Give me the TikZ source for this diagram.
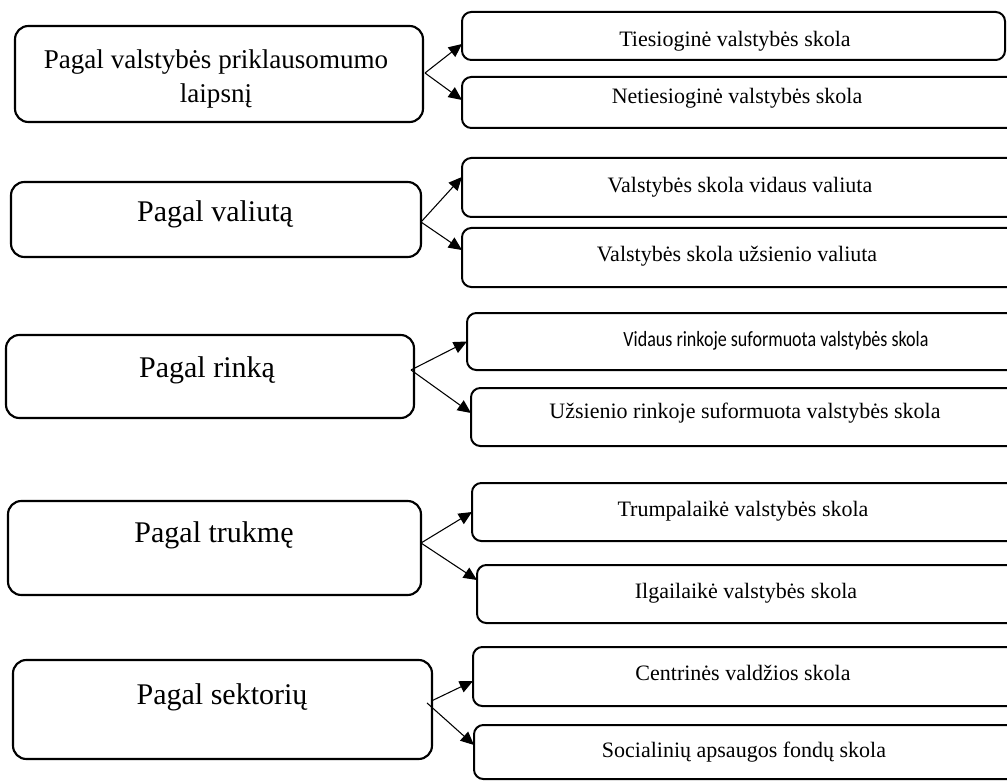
\documentclass[tikz,border=0pt]{standalone}
\usepackage{fontspec}
\usepackage{graphicx}
\setmainfont{Liberation Serif}
\newfontfamily\calibrifont{Carlito}
\usetikzlibrary{arrows.meta}
\newcommand\mkbox[6]{%
  \node[#6, minimum width={(#4-#2)*0.75pt}, minimum height={(#5-#3)*0.75pt}]
    (#1) at ({(#2+#4)/2},{(#3+#5)/2}) {};}
\tikzset{
  lbox/.style={draw=black, line width=1.6pt, rounded corners=10pt, inner sep=0pt, outer sep=0pt, rectangle},
  rbox/.style={draw=black, line width=1.5pt, rounded corners=7pt, inner sep=0pt, outer sep=0pt, rectangle},
  ltxt/.style={inner sep=0pt, font=\fontsize{22.5}{27}\selectfont, align=center},
  ltxtA/.style={inner sep=0pt, font=\fontsize{20.3}{25.5}\selectfont, align=center},
  rtxt/.style={inner sep=0pt, font=\fontsize{16.5}{20}\selectfont},
  rtxtC/.style={inner sep=0pt, font=\calibrifont\fontsize{16.3}{20}\selectfont},
  arr/.style={line width=0.8pt, -{Triangle[length=10pt,width=9pt]}}
}
\begin{document}
\begin{tikzpicture}[x=0.75pt,y=-0.75pt]
\useasboundingbox (0,0) rectangle (1007,781);
\clip (0,0) rectangle (1007,781);
% left boxes
\mkbox{L1}{15}{26}{423}{122}{lbox}
\mkbox{L2}{11}{182}{421}{257}{lbox}
\mkbox{L3}{6}{335}{414}{418}{lbox}
\mkbox{L4}{8}{501}{421}{595}{lbox}
\mkbox{L5}{13}{660}{432}{759}{lbox}
% right boxes
\mkbox{R1a}{462}{12}{1005}{60}{rbox}
\mkbox{R1b}{462}{77}{1030}{128}{rbox}
\mkbox{R2a}{462}{158}{1030}{217}{rbox}
\mkbox{R2b}{462}{228}{1030}{287}{rbox}
\mkbox{R3a}{467}{313}{1030}{370}{rbox}
\mkbox{R3b}{471}{388}{1030}{446}{rbox}
\mkbox{R4a}{472}{483}{1030}{541}{rbox}
\mkbox{R4b}{477}{565}{1030}{623}{rbox}
\mkbox{R5a}{473}{647}{1030}{706}{rbox}
\mkbox{R5b}{474}{725}{1030}{779}{rbox}
% left texts
\node[ltxtA] (T1) at (216,79) {Pagal valstybės priklausomumo\\laipsnį};
\node[ltxt] (T2) at (215,214) {Pagal valiutą};
\node[ltxt] (T3) at (207,370) {Pagal rinką};
\node[ltxt] (T4) at (214,535) {Pagal trukmę};
\node[ltxt] (T5) at (222,697) {Pagal sektorių};
% right texts
\node[rtxt] (S1a) at (735,41) {Tiesioginė valstybės skola};
\node[rtxt] (S1b) at (737,98) {Netiesioginė valstybės skola};
\node[rtxt] (S2a) at (740,187) {Valstybės skola vidaus valiuta};
\node[rtxt] (S2b) at (737,256) {Valstybės skola užsienio valiuta};
\node[rtxtC] (S3a) at (776,341) {\scalebox{0.83}[1]{Vidaus rinkoje suformuota valstybės skola}};
\node[rtxt] (S3b) at (745,413) {Užsienio rinkoje suformuota valstybės skola};
\node[rtxt] (S4a) at (743,511) {Trumpalaikė valstybės skola};
\node[rtxt] (S4b) at (746,593) {Ilgailaikė valstybės skola};
\node[rtxt] (S5a) at (743,673) {Centrinės valdžios skola};
\node[rtxt] (S5b) at (744,752) {Socialinių apsaugos fondų skola};
% connectors
\draw[arr] ([xshift=1.5pt,yshift=0.75pt]L1.east) -- ([yshift=-6pt]R1a.west);
\draw[arr] ([xshift=1.5pt,yshift=0.75pt]L1.east) -- ([yshift=1.9pt]R1b.west);
\draw[arr] ([yshift=-1.9pt]L2.east) -- ([yshift=7.9pt]R2a.west);
\draw[arr] ([yshift=-1.9pt]L2.east) -- ([yshift=5.6pt]R2b.west);
\draw[arr] ([xshift=-2.25pt,yshift=4.9pt]L3.east) -- (R3a.west);
\draw[arr] ([xshift=-2.25pt,yshift=4.9pt]L3.east) -- ([yshift=3pt]R3b.west);
\draw[arr] ([yshift=3.75pt]L4.east) -- (R4a.west);
\draw[arr] ([yshift=3.75pt]L4.east) -- ([yshift=10.5pt]R4b.west);
\draw[arr] ([yshift=6.6pt]L5.east) -- ([yshift=-3.4pt]R5a.west);
\draw[arr] ([xshift=-3.75pt,yshift=4.9pt]L5.east) -- ([yshift=5.25pt]R5b.west);
\end{tikzpicture}
\end{document}
